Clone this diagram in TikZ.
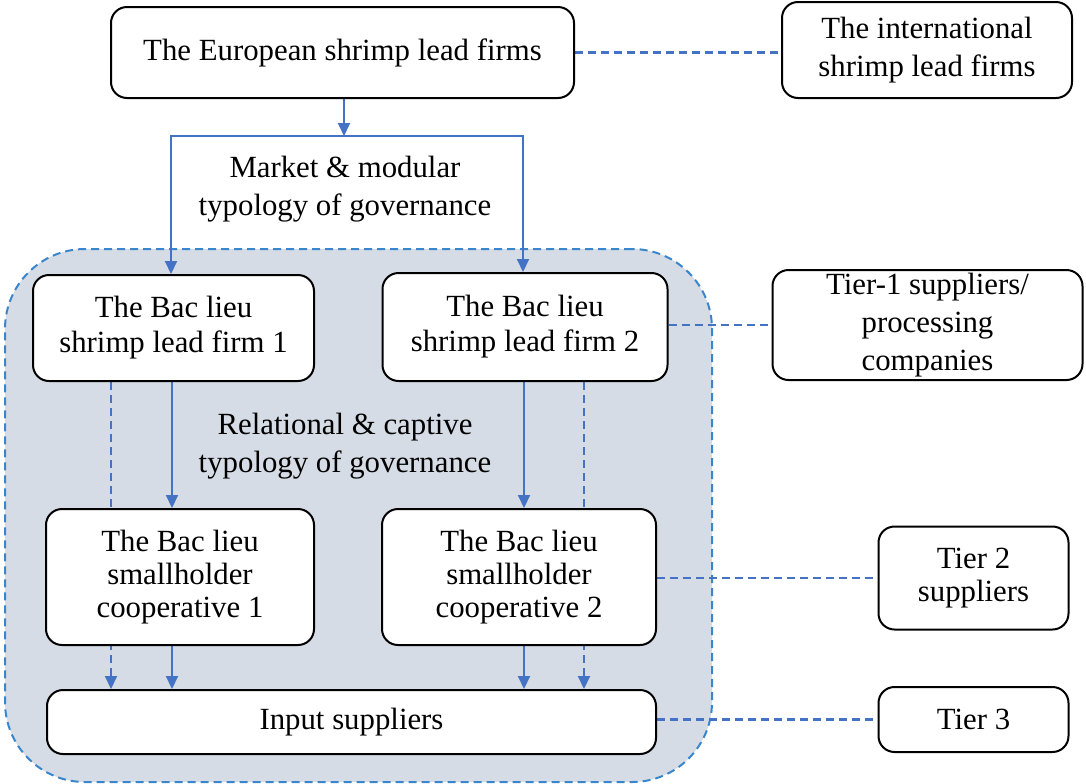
\documentclass[tikz,border=0pt]{standalone}
\usepackage{fontspec}
\setmainfont{Liberation Serif}
\usetikzlibrary{arrows.meta,backgrounds}
\definecolor{linkblue}{HTML}{4472C4}
\definecolor{zoneblue}{HTML}{3A86CC}
\definecolor{zonefill}{HTML}{D6DCE5}
\tikzset{
  box/.style={draw=black, line width=1pt, rounded corners=8pt, fill=white,
    inner sep=0pt, align=center, font=\fontsize{15.4}{19}\selectfont},
  tight/.style={font=\fontsize{15.4}{16.7}\selectfont},
  mid/.style={font=\fontsize{15.4}{17.5}\selectfont},
  txt/.style={inner sep=0pt, align=center, font=\fontsize{15.4}{19}\selectfont},
  flow/.style={draw=linkblue, line width=1pt, -{Triangle[length=6.5pt,width=6pt]}},
  dflow/.style={flow, dash pattern=on 4pt off 2.5pt},
  link/.style={draw=linkblue, line width=1.1pt, dash pattern=on 4pt off 2.5pt},
}
\begin{document}
\begin{tikzpicture}[x=0.5pt, y=-0.5pt]
\useasboundingbox (0,0) rectangle (1086,783);

% boxes
\node[box, minimum width=231.5pt, minimum height=45.5pt] (eu) at (342.5,52.5)
  {The European shrimp lead firms};
\node[box, minimum width=145pt, minimum height=48pt] (intl) at (927,50)
  {The international\\shrimp lead firms};
\node[box, mid, minimum width=140.5pt, minimum height=53pt] (lf1) at (173.5,328)
  {The Bac lieu\\shrimp lead firm 1};
\node[box, mid, minimum width=142.5pt, minimum height=54pt] (lf2) at (525,327)
  {The Bac lieu\\shrimp lead firm 2};
\node[box, minimum width=155pt, minimum height=55pt] (t1) at (927.5,325)
  {Tier-1 suppliers/\\processing\\companies};
\node[box, tight, minimum width=134pt, minimum height=68pt] (c1) at (180,577)
  {The Bac lieu\\smallholder\\cooperative 1};
\node[box, tight, minimum width=137pt, minimum height=68pt] (c2) at (519,577)
  {The Bac lieu\\smallholder\\cooperative 2};
\node[box, tight, minimum width=95pt, minimum height=51.5pt] (t2) at (973.5,578)
  {Tier 2\\suppliers};
\node[box, minimum width=304.5pt, minimum height=32pt] (inp) at (351.5,722)
  {Input suppliers};
\node[box, minimum width=95pt, minimum height=32.5pt] (t3) at (973.5,719.5)
  {Tier 3};

% governance labels
\node[txt] (mkt) at (345,189) {Market \& modular\\typology of governance};
\node[txt] (rel) at (345,446) {Relational \& captive\\typology of governance};

\begin{scope}[on background layer]
% shaded zone of the Bac Lieu actors
\node[draw=zoneblue, fill=zonefill, line width=1pt, dash pattern=on 4pt off 2.5pt,
  rounded corners=40pt, minimum width=353.5pt, minimum height=266.5pt, inner sep=0pt]
  (zone) at (358.5,515.5) {};

% market & modular split
\coordinate (split) at (344,136);
\draw[flow] (eu.south -| split) -- (split);
\draw[draw=linkblue, line width=1pt,
  {Triangle[length=6.5pt,width=6pt]}-{Triangle[length=6.5pt,width=6pt]}]
  (lf1.north -| 171,0) -- (171,136) -- (523,136) -- (lf2.north -| 523,0);

% relational & captive flows
\coordinate (d1) at (111,0);
\coordinate (s1) at (172,0);
\coordinate (s2) at (524,0);
\coordinate (d2) at (584,0);
\draw[flow] (lf1.south -| s1) -- (c1.north -| s1);
\draw[flow] (c1.south -| s1) -- (inp.north -| s1);
\draw[dflow] (lf1.south -| d1) -- (inp.north -| d1);
\draw[flow] (lf2.south -| s2) -- (c2.north -| s2);
\draw[flow] (c2.south -| s2) -- (inp.north -| s2);
\draw[dflow] (lf2.south -| d2) -- (inp.north -| d2);

% tier links
\draw[link] (eu.east) -- (eu.east -| intl.west);
\draw[link] (lf2.east |- t1.west) -- (t1.west);
\draw[link] (c2.east |- t2.west) -- (t2.west);
\draw[link] (inp.east |- t3.west) -- (t3.west);
\end{scope}
\end{tikzpicture}
\end{document}
